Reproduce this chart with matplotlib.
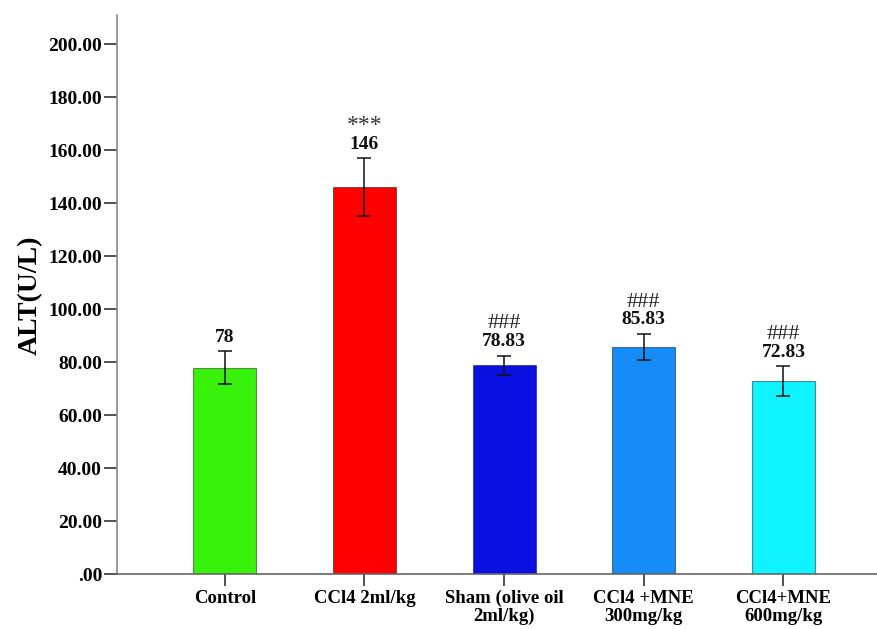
import matplotlib
matplotlib.use("Agg")
import matplotlib.pyplot as plt
import numpy as np

categories = ["Control", "CCl4 2ml/kg", "Sham (olive oil\n2ml/kg)",
              "CCl4 +MNE\n300mg/kg", "CCl4+MNE\n600mg/kg"]
means = [78.0, 146.0, 78.83, 85.83, 72.83]
errors = [6.2, 10.9, 3.7, 4.9, 5.7]
value_labels = ["78", "146", "78.83", "85.83", "72.83"]
sig_labels = ["", "***", "###", "###", "###"]
colors = ["#38f20c", "#ff0000", "#0a10e0", "#158cf6", "#0ff2ff"]
yticks = [0, 20, 40, 60, 80, 100, 120, 140, 160, 180, 200]
ytick_labels = [".00", "20.00", "40.00", "60.00", "80.00", "100.00",
                "120.00", "140.00", "160.00", "180.00", "200.00"]

plt.rcParams['font.family'] = ['Liberation Serif', 'DejaVu Serif']

fig = plt.figure(figsize=(8.77, 6.29), dpi=100)
ax = fig.add_axes([117.3 / 877, (629 - 574.3) / 629, 1 - 117.3 / 877, (574.3 - 15) / 629])

x = np.arange(len(categories))
ax.bar(x, means, width=0.45, color=colors, edgecolor=(0, 0, 0, 0.45), linewidth=0.8, zorder=2)
ax.errorbar(x, means, yerr=errors, fmt='none', ecolor='#111111', elinewidth=1.1,
            capsize=5, capthick=1.1, zorder=3)

for i in range(len(x)):
    top = means[i] + errors[i]
    ax.annotate(value_labels[i], (x[i], top), xytext=(0, 6.8), textcoords='offset points',
                ha='center', va='baseline', fontsize=14, fontweight='bold', color='#111111')
    if sig_labels[i]:
        if sig_labels[i] == "***":
            ax.annotate(sig_labels[i], (x[i], top), xytext=(0, 20), textcoords='offset points',
                        ha='center', va='baseline', fontsize=17, color='#333333')
        else:
            ax.annotate(sig_labels[i], (x[i], top), xytext=(0, 19.5), textcoords='offset points',
                        ha='center', va='baseline', fontsize=16, color='#222222')

ax.set_xlim(-0.77, 4.67)
ax.set_ylim(0, 211)
ax.set_yticks(yticks)
ax.set_yticklabels(ytick_labels, fontsize=14, fontweight='bold')
ax.set_xticks(x)
ax.set_xticklabels(categories, fontsize=13.5, fontweight='bold', linespacing=1.08)

for s in ['top', 'right']:
    ax.spines[s].set_visible(False)
ax.spines['left'].set_color('#888888')
ax.spines['bottom'].set_color('#666666')
ax.spines['left'].set_linewidth(1.2)
ax.spines['bottom'].set_linewidth(1.2)
ax.tick_params(axis='y', length=9.5, width=1.2, pad=1.5, color='#333333')
ax.tick_params(axis='x', length=8.6, width=1.2, pad=2.5, color='#333333')

fig.text(30 / 877, 1 - 295 / 629, "ALT(U/L)", rotation=90, ha='center', va='center',
         fontsize=20, fontweight='bold')

fig.savefig("out.png", dpi=100)
